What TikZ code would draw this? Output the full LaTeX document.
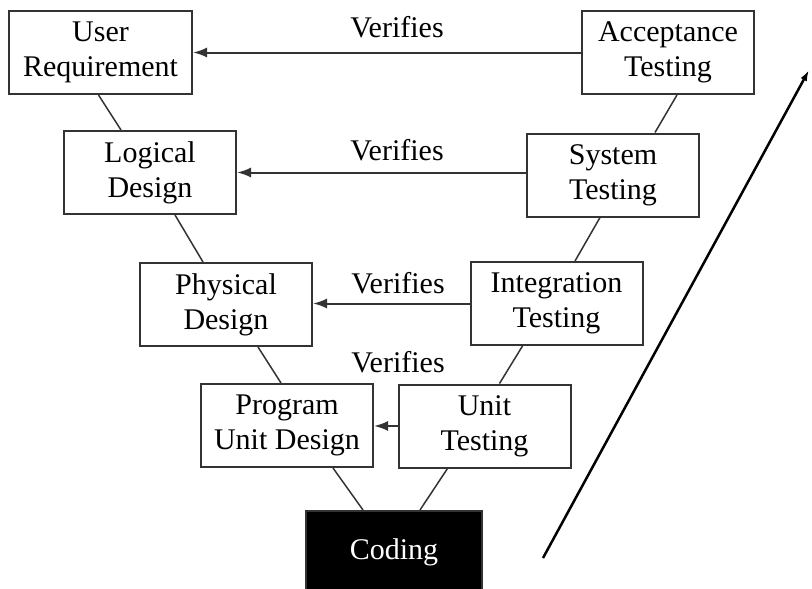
\documentclass[tikz,border=0pt]{standalone}
\usepackage{fontspec}
\setmainfont{Liberation Serif}
\usetikzlibrary{arrows.meta}
\tikzset{every picture/.style={line width=1.5pt}}

\begin{document}
\begin{tikzpicture}[x=1pt, y=-1pt, every node/.style={font=\fontsize{30}{35}\selectfont},
    stage/.style={rectangle, draw=black!80, line width=2pt, align=center, minimum width=172pt, minimum height=83pt, inner sep=9pt},
    link/.style={draw=black!80, line width=1.5pt},
    verify/.style={draw=black!80, line width=2pt, -{Latex[length=14pt,width=10pt]}}]
        \useasboundingbox (0,0) rectangle (812,589);
        \clip (0,0) rectangle (812,589);
        % design side
        \node[stage, minimum width=183pt] (user) at (100.5,52.5) {User\\Requirement};
        \node[stage] (logical) at (150,172.5) {Logical\\Design};
        \node[stage] (physical) at (226,304.5) {Physical\\Design};
        \node[stage] (program) at (287,425.5) {Program\\Unit Design};
        % testing side
        \node[stage] (acceptance) at (668,52.5) {Acceptance\\Testing};
        \node[stage] (system) at (613,175) {System\\Testing};
        \node[stage] (integration) at (556.5,303.5) {Integration\\Testing};
        \node[stage] (unit) at (484.5,426) {Unit\\Testing};
        % bottom of the V
        \node[stage, fill=black, text=white, minimum width=176pt] (coding) at (394,552.5) {Coding};
        % links down the V
        \draw[link] ([xshift=-2pt]user.south) -- ([xshift=-29pt]logical.north);
        \draw[link] ([xshift=25pt]logical.south) -- ([xshift=-23pt]physical.north);
        \draw[link] ([xshift=32pt]physical.south) -- ([xshift=-6pt]program.north);
        \draw[link] ([xshift=46pt]program.south) -- ([xshift=-31pt]coding.north);
        \draw[link] ([xshift=-37pt]unit.south) -- ([xshift=26pt]coding.north);
        \draw[link] ([xshift=-34pt]integration.south) -- ([xshift=15pt]unit.north);
        \draw[link] ([xshift=-13pt]system.south) -- ([xshift=18.5pt]integration.north);
        \draw[link] ([xshift=9pt]acceptance.south) -- ([xshift=42pt]system.north);
        % verification arrows
        \draw[verify] (acceptance.west) -- (acceptance.west -| user.east);
        \draw[verify] (logical.east -| system.west) -- (logical.east);
        \draw[verify] (integration.west) -- (integration.west -| physical.east);
        \draw[verify] (unit.west) -- (unit.west -| program.east);
        \node (v1) at (397,27) {Verifies};
        \node (v2) at (397,150) {Verifies};
        \node (v3) at (398,283) {Verifies};
        \node (v4) at (398,362) {Verifies};
        % time arrow
        \coordinate (trendlow) at (543,558);
        \coordinate (trendtop) at (809,70);
        \draw[line width=2.5pt, -{Latex[length=11pt,width=7pt]}] (trendlow) -- (trendtop);
\end{tikzpicture}
\end{document}
